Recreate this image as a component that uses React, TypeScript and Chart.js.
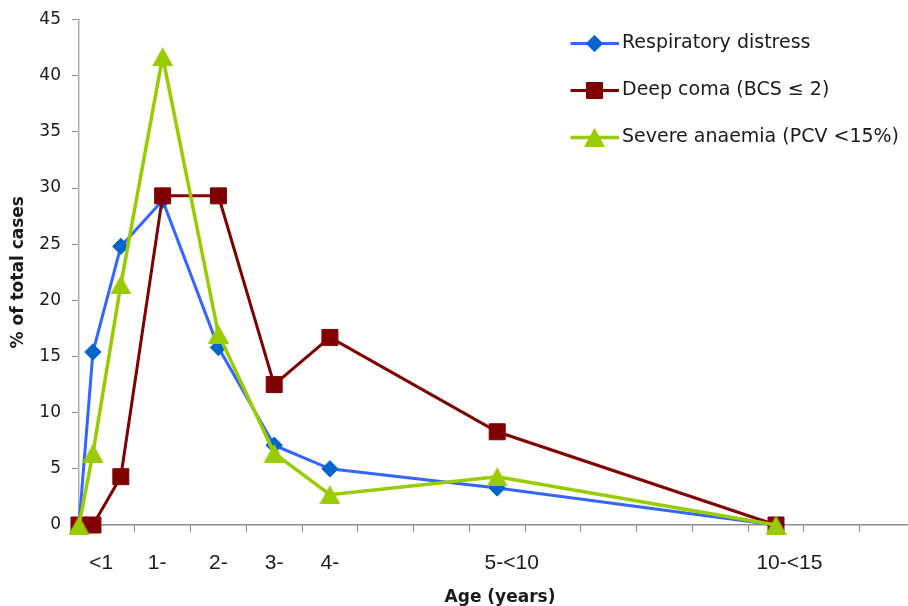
import React, { useEffect, useRef } from 'react';
import { Chart, registerables } from 'chart.js';

Chart.register(...registerables);

// ---- data ----
const ageX = [0, 0.25, 0.75, 1.5, 2.5, 3.5, 4.5, 7.5, 12.5];
const respiratoryDistress = [0, 15.4, 24.8, 28.9, 15.8, 7.1, 5.0, 3.3, 0];
const deepComa = [0, 0, 4.3, 29.3, 29.3, 12.5, 16.7, 8.3, 0];
const severeAnaemia = [0, 6.4, 21.4, 41.7, 17.0, 6.4, 2.7, 4.3, 0];

const ageGroupLabels = ['<1', '1-', '2-', '3-', '4-', '5-<10', '10-<15'];
const ageGroupLabelAt = [0.4, 1.4, 2.5, 3.5, 4.5, 7.76, 12.74];

const seriesNames = [
  'Respiratory distress',
  'Deep coma (BCS \u2264 2)',
  'Severe anaemia (PCV <15%)',
];

const xTitle = 'Age (years)';
const yTitle = '% of total cases';

// ---- styles ----
const BLUE_LINE = '#3366ff';
const BLUE_MARK = '#0066cc';
const RED = '#800000';
const GREEN = '#99cc00';
const TEXT = '#1a1a1a';

const CANVAS_W = 921;
const CANVAS_H = 620;

function makeTriangle(color: string) {
  const c = document.createElement('canvas');
  c.width = 21;
  c.height = 19;
  const g = c.getContext('2d')!;
  g.fillStyle = color;
  g.beginPath();
  g.moveTo(10.5, 0);
  g.lineTo(21, 19);
  g.lineTo(0, 19);
  g.closePath();
  g.fill();
  return c;
}

function drawMarker(ctx: CanvasRenderingContext2D, ds: any, x: number, y: number) {
  const style = ds.pointStyle;
  if (style && typeof style === 'object') {
    ctx.drawImage(style, x - style.width / 2, y - style.height / 2);
    return;
  }
  const r = ds.pointRadius;
  ctx.fillStyle = ds.pointBackgroundColor;
  ctx.strokeStyle = ds.pointBorderColor;
  ctx.lineWidth = ds.pointBorderWidth;
  ctx.beginPath();
  if (style === 'rectRot') {
    ctx.moveTo(x - r, y);
    ctx.lineTo(x, y - r);
    ctx.lineTo(x + r, y);
    ctx.lineTo(x, y + r);
    ctx.closePath();
  } else {
    const h = r * Math.SQRT1_2;
    ctx.rect(x - h, y - h, 2 * h, 2 * h);
  }
  ctx.fill();
  ctx.stroke();
}

const sideLegend = {
  id: 'sideLegend',
  afterDraw(chart: any) {
    const ctx = chart.ctx as CanvasRenderingContext2D;
    chart.data.datasets.forEach((ds: any, i: number) => {
      const y = 43.5 + i * 47;
      ctx.save();
      ctx.strokeStyle = ds.borderColor;
      ctx.lineWidth = ds.borderWidth;
      ctx.beginPath();
      ctx.moveTo(570.5, y);
      ctx.lineTo(619, y);
      ctx.stroke();
      drawMarker(ctx, ds, 594.5, y);
      ctx.fillStyle = TEXT;
      ctx.font = '19px "DejaVu Sans"';
      ctx.textBaseline = 'middle';
      ctx.textAlign = 'left';
      ctx.fillText(ds.label, 622, y);
      ctx.restore();
    });
  },
};

const toPoints = (ys: number[]) => ageX.map((x, i) => ({ x, y: ys[i] }));

export default function App() {
  const ref = useRef<HTMLCanvasElement | null>(null);

  useEffect(() => {
    if (!ref.current) return;
    const tri = makeTriangle(GREEN);
    const X_MAX = 15.1;
    const chart = new Chart(ref.current, {
      type: 'line',
      data: {
        datasets: [
          {
            label: seriesNames[0],
            data: toPoints(respiratoryDistress),
            borderColor: BLUE_LINE,
            backgroundColor: BLUE_MARK,
            pointBackgroundColor: BLUE_MARK,
            pointBorderColor: BLUE_MARK,
            pointBorderWidth: 1,
            pointStyle: 'rectRot',
            pointRadius: 8.2,
            borderWidth: 3,
            tension: 0,
            clip: false,
            order: 2,
          } as any,
          {
            label: seriesNames[1],
            data: toPoints(deepComa),
            borderColor: RED,
            backgroundColor: RED,
            pointBackgroundColor: RED,
            pointBorderColor: RED,
            pointBorderWidth: 1,
            pointStyle: 'rect',
            pointRadius: 11.3,
            borderWidth: 3,
            tension: 0,
            clip: false,
            order: 1,
          } as any,
          {
            label: seriesNames[2],
            data: toPoints(severeAnaemia),
            borderColor: GREEN,
            backgroundColor: GREEN,
            pointBackgroundColor: GREEN,
            pointBorderColor: GREEN,
            pointBorderWidth: 1,
            pointStyle: tri,
            pointRadius: 10,
            borderWidth: 3.5,
            tension: 0,
            clip: false,
            order: 0,
          } as any,
        ],
      },
      options: {
        responsive: false,
        maintainAspectRatio: false,
        animation: false,
        layout: { autoPadding: false, padding: { top: 19.5, right: 0, bottom: 0, left: 0 } },
        plugins: {
          legend: { display: false },
          tooltip: { enabled: false },
        },
        scales: {
          x: {
            type: 'linear',
            position: 'bottom',
            weight: 0,
            min: 0,
            max: X_MAX,
            ticks: { display: false, stepSize: 1, maxTicksLimit: 30 },
            grid: { drawOnChartArea: false, drawTicks: true, tickLength: 7, color: '#8c8c8c', lineWidth: 1 },
            border: { display: true, color: '#8c8c8c', width: 1.5 },
            afterFit: (s: any) => {
              s.height = 7;
              s.paddingLeft = 0;
              s.paddingRight = 0;
            },
          },
          xLabels: {
            type: 'linear',
            axis: 'x',
            position: 'bottom',
            weight: 1,
            min: 0,
            max: X_MAX,
            grid: { display: false, drawTicks: false, tickLength: 0 },
            border: { display: false },
            afterBuildTicks: (s: any) => {
              s.ticks = ageGroupLabelAt.map((v) => ({ value: v }));
            },
            ticks: {
              autoSkip: false,
              maxRotation: 0,
              padding: 19,
              color: TEXT,
              font: { family: '"Liberation Sans", Arial, sans-serif', size: 21 },
              callback: (_v: any, i: number) => ageGroupLabels[i],
            },
            title: {
              display: true,
              text: xTitle,
              color: TEXT,
              font: { family: '"DejaVu Sans"', size: 17, weight: 'bold' },
              padding: { top: 0, bottom: 11.8 },
            },
            afterFit: (s: any) => {
              s.height = 88;
              s.paddingLeft = 0;
              s.paddingRight = 0;
            },
          } as any,
          y: {
            type: 'linear',
            min: 0,
            max: 45,
            ticks: {
              stepSize: 5,
              padding: 11,
              color: TEXT,
              font: { family: '"DejaVu Sans"', size: 17 },
            },
            grid: { drawOnChartArea: false, drawTicks: true, tickLength: 7, color: '#8c8c8c' },
            border: { display: true, color: '#b0b0b0', width: 1.5 },
            title: {
              display: true,
              text: yTitle,
              color: TEXT,
              font: { family: '"DejaVu Sans"', size: 17, weight: 'bold' },
              padding: { top: 8.3, bottom: 0 },
            },
            afterFit: (s: any) => {
              s.width = 79;
              s.paddingTop = 0;
              s.paddingBottom = 0;
            },
          },
        },
      },
      plugins: [sideLegend],
    });
    return () => chart.destroy();
  }, []);

  return (
    <div
      style={{
        position: 'fixed',
        left: 0,
        top: 0,
        width: 908,
        height: 606,
        overflow: 'hidden',
        background: '#ffffff',
      }}
    >
      <div style={{ position: 'absolute', left: 0, top: 0, width: CANVAS_W, height: CANVAS_H }}>
        <canvas
          ref={ref}
          width={CANVAS_W}
          height={CANVAS_H}
          style={{ width: CANVAS_W, height: CANVAS_H, display: 'block' }}
        />
      </div>
    </div>
  );
}
